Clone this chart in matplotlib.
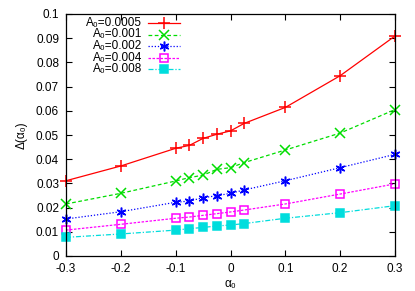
import matplotlib
matplotlib.use("Agg")
import matplotlib.pyplot as plt

plt.rcParams['font.family'] = ['Liberation Sans', 'DejaVu Sans']

alpha0 = [-0.3, -0.2, -0.1, -0.075, -0.05, -0.025, 0.0, 0.025, 0.1, 0.2, 0.3]
d_0005 = [0.0311, 0.0372, 0.0445, 0.0457, 0.0486, 0.0503, 0.0517, 0.0548, 0.0614, 0.0745, 0.0909]
d_001 = [0.0215, 0.0259, 0.0310, 0.0324, 0.0334, 0.0358, 0.0365, 0.0386, 0.0438, 0.0508, 0.0605]
d_002 = [0.0153, 0.0183, 0.0222, 0.0227, 0.0241, 0.0249, 0.0259, 0.0273, 0.0311, 0.0365, 0.0420]
d_004 = [0.0107, 0.0131, 0.0156, 0.0161, 0.0168, 0.0175, 0.0182, 0.0190, 0.0215, 0.0256, 0.0298]
d_008 = [0.0077, 0.0091, 0.0107, 0.0113, 0.0118, 0.0124, 0.0128, 0.0134, 0.0156, 0.0179, 0.0208]

labels = ['A\u2080=0.0005', 'A\u2080=0.001', 'A\u2080=0.002', 'A\u2080=0.004', 'A\u2080=0.008']
series = [d_0005, d_001, d_002, d_004, d_008]
colors = ['#ff0000', '#00dd00', '#0000ff', '#ff00ff', '#00dddd']
linestyles = ['-', (0, (3, 2)), (0, (1, 1.5)), (0, (2, 1.2)), (0, (4, 1.5, 1, 1.5))]
markers = ['+', 'x', (6, 2, 0), 's', 's']
mfcs = ['none', 'none', 'none', 'none', '#00dddd']
msizes = [8, 6.5, 7, 6, 6]

xticks = [-0.3, -0.2, -0.1, 0, 0.1, 0.2, 0.3]
xticklabels = ['-0.3', '-0.2', '-0.1', '0', '0.1', '0.2', '0.3']
yticks = [0, 0.01, 0.02, 0.03, 0.04, 0.05, 0.06, 0.07, 0.08, 0.09, 0.1]
yticklabels = ['0', '0.01', '0.02', '0.03', '0.04', '0.05', '0.06', '0.07', '0.08', '0.09', '0.1']

W, H = 415, 291
fig = plt.figure(figsize=(W / 100, H / 100), dpi=100)
L, R, T, B = 66, 395, 14, 256
ax = fig.add_axes([L / W, 1 - B / H, (R - L) / W, (B - T) / H])

for ys, c, ls, m, mfc, ms in zip(series, colors, linestyles, markers, mfcs, msizes):
    ax.plot(alpha0, ys, color=c, linestyle=ls, linewidth=0.9, marker=m,
            markersize=ms, markerfacecolor=mfc, markeredgecolor=c, markeredgewidth=1.1,
            clip_on=False)

ax.set_xlim(-0.3, 0.3)
ax.set_ylim(0, 0.1)
ax.set_xticks(xticks)
ax.set_xticklabels(xticklabels)
ax.set_yticks(yticks)
ax.set_yticklabels(yticklabels)
ax.tick_params(direction='in', length=4, width=0.8, top=True, right=True,
               labelsize=8.5, pad=5, colors='black')
for sp in ax.spines.values():
    sp.set_linewidth(0.9)

ax.set_xlabel('\u03b1\u2080', fontsize=8.5, labelpad=2)
ax.set_ylabel('\u0394(\u03b1\u2080)', fontsize=8.5, labelpad=6)

# gnuplot-style key: right-aligned text, then line sample with marker
rows_y = [23, 34.5, 46, 57.5, 69]
text_x = 142
x0, x1 = 148, 180
for lab, c, ls, m, mfc, ms, yp in zip(labels, colors, linestyles, markers, mfcs, msizes, rows_y):
    yf = 1 - yp / H
    fig.text(text_x / W, yf, lab, ha='right', va='center', fontsize=8.5)
    fig.add_artist(plt.Line2D([x0 / W, x1 / W], [yf, yf], color=c, linestyle=ls,
                              linewidth=0.9, transform=fig.transFigure))
    fig.add_artist(plt.Line2D([(x0 + x1) / 2 / W], [yf], color=c, linestyle='none',
                              marker=m, markersize=ms, markerfacecolor=mfc,
                              markeredgecolor=c, markeredgewidth=1.1,
                              transform=fig.transFigure))

fig.savefig('out.png', dpi=100)
